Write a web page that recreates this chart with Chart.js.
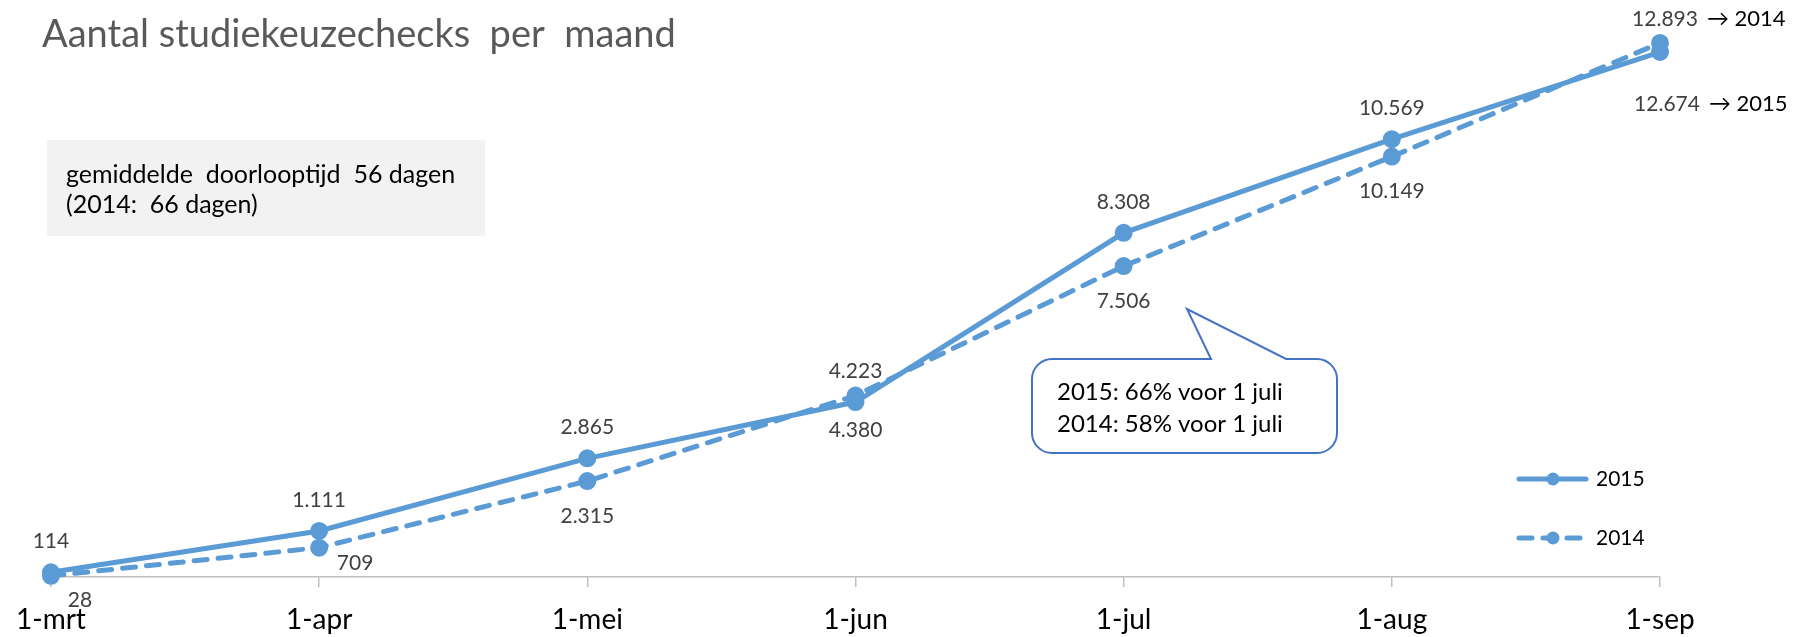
<!DOCTYPE html>
<html>
<head>
<meta charset="utf-8">
<script src="https://cdn.jsdelivr.net/npm/chart.js@4.4.0/dist/chart.umd.min.js"></script>
<style>
  html, body { margin: 0; padding: 0; background: #fff; }
  #wrap { width: 1803px; height: 637px; position: relative; }
</style>
</head>
<body>
<div id="wrap"><canvas id="checksChart"></canvas></div>
<script>
// Data
const months = ["1-mrt", "1-apr", "1-mei", "1-jun", "1-jul", "1-aug", "1-sep"];
const checks2015 = [114, 1111, 2865, 4223, 8308, 10569, 12674];
const checks2014 = [28, 709, 2315, 4380, 7506, 10149, 12893];
const seriesNames = ["2015", "2014"];

const titleText = "Aantal studiekeuzechecks  per  maand";
const noteLines = ["gemiddelde  doorlooptijd  56 dagen", "(2014:  66 dagen)"];
const calloutLines = ["2015: 66% voor 1 juli", "2014: 58% voor 1 juli"];

const blue = "#5B9BD5";
const FONT = "Lato, 'DejaVu Sans', sans-serif";

function fmt(v) {
    return String(v).replace(/\B(?=(\d{3})+(?!\d))/g, ".");
}

// label placement per series: dy relative to the point, nudges per index
const labelPlacement = [
    { dy: -31, nudge: { 6: { dx: 7, dy: 52, arrow: "\u2192 2015" } } },
    { dy: 35, nudge: { 0: { dx: 29, dy: 24 }, 1: { dx: 36, dy: 16 }, 6: { dx: 5, dy: -24, arrow: "\u2192 2014" } } },
];

const overlayPlugin = {
    id: "overlay",
    afterDatasetsDraw(chart) {
        const ctx = chart.ctx;
        ctx.save();

        // data labels
        ctx.textAlign = "center";
        ctx.textBaseline = "middle";
        chart.data.datasets.forEach((ds, di) => {
            const meta = chart.getDatasetMeta(di);
            const place = labelPlacement[di];
            meta.data.forEach((pt, i) => {
                const n = place.nudge[i] || {};
                const x = pt.x + (n.dx || 0);
                const y = pt.y + (n.dy !== undefined ? n.dy : place.dy);
                const txt = fmt(ds.data[i]);
                ctx.font = "21px " + FONT;
                ctx.fillStyle = "#404040";
                ctx.fillText(txt, x, y);
                if (n.arrow) {
                    const w = ctx.measureText(txt).width;
                    ctx.textAlign = "left";
                    ctx.fillStyle = "#000";
                    ctx.font = "22px " + FONT;
                    ctx.fillText(n.arrow, x + w / 2 + 9, y);
                    ctx.textAlign = "center";
                }
            });
        });

        // legend
        chart.data.datasets.forEach((ds, di) => {
            const y = 479 + di * 59;
            ctx.strokeStyle = ds.borderColor;
            ctx.lineWidth = ds.borderWidth;
            ctx.lineCap = "round";
            ctx.setLineDash(ds.borderDash || []);
            ctx.beginPath();
            ctx.moveTo(1519, y);
            ctx.lineTo(1586, y);
            ctx.stroke();
            ctx.setLineDash([]);
            ctx.fillStyle = ds.pointBackgroundColor;
            ctx.beginPath();
            ctx.arc(1553, y, ds.pointRadius, 0, Math.PI * 2);
            ctx.fill();
            ctx.fillStyle = "#000";
            ctx.font = "21px " + FONT;
            ctx.textAlign = "left";
            ctx.fillText(ds.label, 1596, y);
        });
        ctx.restore();
    },
    afterDraw(chart) {
        const ctx = chart.ctx;
        ctx.save();

        // title
        ctx.fillStyle = "#595959";
        ctx.font = "38px " + FONT;
        ctx.textAlign = "left";
        ctx.textBaseline = "alphabetic";
        ctx.fillText(titleText, 42, 47);

        // grey note box
        ctx.fillStyle = "#F2F2F2";
        ctx.fillRect(47, 140, 438, 96);
        ctx.fillStyle = "#000";
        ctx.font = "25px " + FONT;
        ctx.fillText(noteLines[0], 66, 183);
        ctx.fillText(noteLines[1], 66, 213);

        // callout
        const l = 1032, t = 359, r = 1337, b = 453, rad = 20;
        ctx.beginPath();
        ctx.moveTo(l + rad, t);
        ctx.lineTo(1211, t);
        ctx.lineTo(1187, 309);
        ctx.lineTo(1286, t);
        ctx.lineTo(r - rad, t);
        ctx.arcTo(r, t, r, t + rad, rad);
        ctx.lineTo(r, b - rad);
        ctx.arcTo(r, b, r - rad, b, rad);
        ctx.lineTo(l + rad, b);
        ctx.arcTo(l, b, l, b - rad, rad);
        ctx.lineTo(l, t + rad);
        ctx.arcTo(l, t, l + rad, t, rad);
        ctx.closePath();
        ctx.fillStyle = "#fff";
        ctx.fill();
        ctx.strokeStyle = "#4472C4";
        ctx.lineWidth = 2;
        ctx.stroke();
        ctx.fillStyle = "#000";
        ctx.font = "24px " + FONT;
        ctx.fillText(calloutLines[0], 1057, 400);
        ctx.fillText(calloutLines[1], 1057, 432);

        ctx.restore();
    }
};

const ctx = document.getElementById("checksChart").getContext("2d");

new Chart(ctx, {
    type: "line",
    data: {
        labels: months,
        datasets: [
            {
                label: seriesNames[0],
                data: checks2015,
                borderColor: blue,
                backgroundColor: blue,
                pointBackgroundColor: blue,
                pointBorderColor: blue,
                borderWidth: 5,
                pointRadius: 6.5,
                borderCapStyle: "round",
                tension: 0,
                clip: false,
            },
            {
                label: seriesNames[1],
                data: checks2014,
                borderColor: blue,
                backgroundColor: blue,
                pointBackgroundColor: blue,
                pointBorderColor: blue,
                borderWidth: 5,
                borderDash: [13, 11],
                pointRadius: 6.5,
                borderCapStyle: "round",
                tension: 0,
                clip: false,
            },
        ],
    },
    options: {
        responsive: true,
        maintainAspectRatio: false,
        animation: false,
        layout: { padding: { left: 46, right: 143, top: 38.5, bottom: 0 } },
        plugins: {
            legend: { display: false },
            title: { display: false },
            tooltip: { enabled: false },
        },
        scales: {
            x: {
                offset: false,
                afterFit(scale) {
                    scale.height = 60;
                },
                grid: {
                    display: true,
                    drawOnChartArea: false,
                    drawTicks: true,
                    tickLength: 10,
                    color: "#BFBFBF",
                    lineWidth: 1.5,
                },
                border: { display: true, color: "#BFBFBF", width: 1.5 },
                ticks: {
                    color: "#000",
                    font: { family: FONT, size: 28 },
                    padding: 16,
                    maxRotation: 0,
                    autoSkip: false,
                },
            },
            y: {
                display: false,
                min: 0,
                max: 13000,
            },
        },
    },
    plugins: [overlayPlugin],
});
</script>
</body>
</html>
